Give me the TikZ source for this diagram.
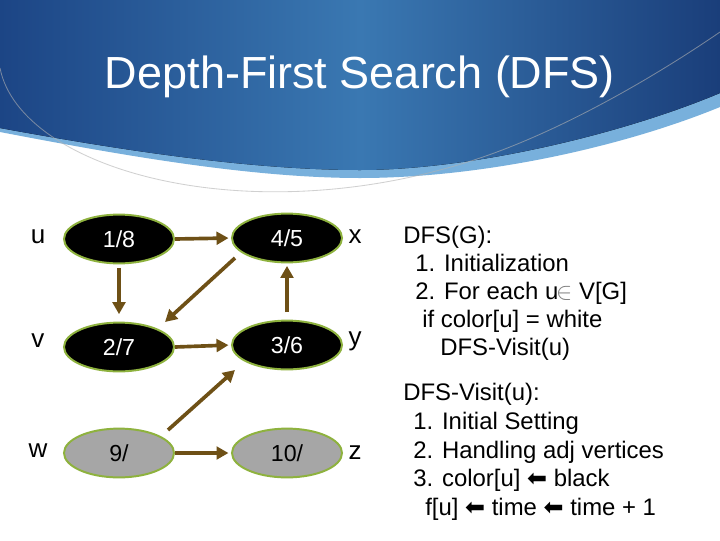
\documentclass[tikz,border=0pt]{standalone}
\usepackage{fontspec}
\setmainfont{Liberation Sans}
\newfontfamily\symfont{DejaVu Sans}
\usetikzlibrary{calc,shapes.geometric,arrows.meta}
\definecolor{bandleft}{RGB}{28,69,133}
\definecolor{bandmid}{RGB}{58,120,178}
\definecolor{bandright}{RGB}{26,62,122}
\definecolor{bandlight}{RGB}{120,176,220}
\definecolor{rimgreen}{RGB}{142,178,62}
\definecolor{vgray}{RGB}{166,166,166}
\definecolor{arrowbrown}{RGB}{110,80,22}
\newcommand{\larr}{{\symfont\char"2B05}}

\begin{document}
\begin{tikzpicture}[
 x=0.025cm, y=-0.025cm,
 >={Triangle[length=8.5pt,width=9pt]},
 vertex/.style={draw=rimgreen,line width=1.4pt,ellipse,minimum width=2.75cm,minimum height=1.22cm,inner sep=0pt,font=\fontsize{16.5}{19}\selectfont},
 done/.style={vertex,fill=black,text=white},
 grey/.style={vertex,fill=vgray,text=black},
 vlabel/.style={anchor=base,inner sep=0pt,font=\fontsize{18.5}{22}\selectfont},
 link/.style={->,draw=arrowbrown,line width=2.6pt},
 pseudo/.style={anchor=base west,inner sep=0pt,font=\fontsize{17}{20}\selectfont}
]
\useasboundingbox (0,0) rectangle (720,540);
\fill[white] (0,0) rectangle (720,540);
% title band
\fill[bandlight] (0,0) -- (720,0) -- (720,107)
 .. controls (620,148) and (480,178) .. (360,178)
 .. controls (250,178) and (120,155) .. (0,132) -- cycle;
\fill[left color=bandleft,right color=bandright,middle color=bandmid] (0,0) -- (720,0) -- (720,93)
 .. controls (620,135) and (470,170) .. (360,170)
 .. controls (250,170) and (120,150) .. (0,128) -- cycle;
\draw[gray!60,opacity=0.6,line width=0.6pt] (0,68)
 .. controls (20,170) and (250,235) .. (480,158)
 .. controls (560,131) and (650,80) .. (720,32);
\node (title) [anchor=base,text=white,font=\fontsize{32}{38}\selectfont] at (360,88) {Depth-First Search (DFS)};

% vertices
\node (u) [done] at (119,239) {1/8};
\node (x) [done] at (287,238) {4/5};
\node (v) [done] at (119,347) {2/7};
\node (y) [done] at (287,345) {3/6};
\node (w) [grey] at (119,453) {9/};
\node (z) [grey] at (287,453) {10/};
\node (u-name) [vlabel] at (38,243) {u};
\node (v-name) [vlabel] at (38,347) {v};
\node (w-name) [vlabel] at (38,457) {w};
\node (x-name) [vlabel] at (355,243) {x};
\node (y-name) [vlabel] at (355,345) {y};
\node (z-name) [vlabel] at (355,459) {z};

% edges
\draw[link,shorten >=1.8pt] (u.east) -- (x.west);
\draw[link,shorten <=2.5pt,shorten >=5.3pt] (u.south) -- (v.north);
\draw[link] ($(x.center)+(-52,20)$) -- ($(v.center)+(46,-25)$);
\draw[link,shorten <=5.3pt,shorten >=1.8pt] (y.north) -- (x.south);
\draw[link,shorten >=1.8pt] (v.east) -- (y.west);
\draw[link] ($(w.center)+(49,-23)$) -- ($(y.center)+(-52,25)$);
\draw[link,shorten >=1.8pt] (w.east) -- (z.west);

% pseudo code
\node (dfs-0) [pseudo] at (403,243) {DFS(G):};
\node (dfs-1) [pseudo] at (415,271) {1. Initialization};
\node (dfs-2) [pseudo] at (415,299) {2. For each u\kern-1.5pt{\color{gray}$\in$} V[G]};
\node (dfs-3) [pseudo] at (422,327) {if color[u] = white};
\node (dfs-4) [pseudo] at (440,355) {DFS-Visit(u)};
\node (visit-0) [pseudo] at (403,400) {DFS-Visit(u):};
\node (visit-1) [pseudo] at (413,429) {1. Initial Setting};
\node (visit-2) [pseudo] at (413,458) {2. Handling adj vertices};
\node (visit-3) [pseudo] at (413,486) {3. color[u] \larr{} black};
\node (visit-4) [pseudo] at (425,515) {f[u] \larr{} time \larr{} time + 1};
\end{tikzpicture}
\end{document}
